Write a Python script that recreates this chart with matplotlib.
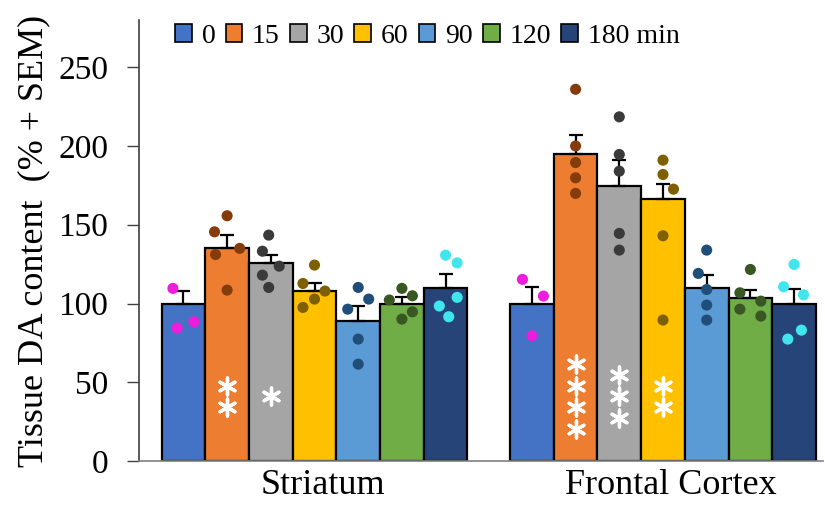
import numpy as np
import matplotlib.pyplot as plt
from matplotlib.patches import Patch

plt.rcParams['font.family'] = ['Liberation Serif', 'DejaVu Serif']

regions = ['Striatum', 'Frontal Cortex']
times = ['0', '15', '30', '60', '90', '120', '180 min']

# group means and SEM (% of 0 min)
means_str = [100, 135, 126, 108, 89, 100, 110]
sem_str = [8, 8.2, 5, 5.3, 9.6, 4.2, 8.6]
means_fc = [100, 195.2, 174.7, 166.4, 109.6, 103.2, 100]
sem_fc = [10.4, 11.7, 16.3, 9.6, 8.8, 5.3, 9.1]

# individual animals
pts_str = [
    [109.6, 88.4, 84.4],
    [155.7, 145.5, 135.0, 131.1, 108.5],
    [143.4, 133.2, 123.7, 118.0, 110.2],
    [124.4, 112.7, 107.9, 102.8, 97.5],
    [110.2, 102.8, 96.4, 77.4, 61.5],
    [109.6, 104.9, 102.2, 94.7, 90.1],
    [130.7, 125.8, 103.9, 98.4, 91.6],
]
pts_fc = [
    [115.3, 104.7, 79.5],
    [236.0, 200.0, 189.5, 179.8, 169.9],
    [218.5, 194.6, 184.0, 144.5, 133.9],
    [191.0, 181.9, 172.6, 143.0, 89.5],
    [133.9, 119.1, 108.9, 99.0, 89.5],
    [121.6, 106.8, 101.5, 96.4, 92.0],
    [124.8, 110.6, 105.5, 83.1, 77.4],
]
# horizontal scatter of the dots, in dot steps
jit_str = [
    [-1, 1, -0.6],
    [0, -1.2, 1.2, -1.1, 0],
    [-0.2, -0.8, 0.8, -0.8, -0.2],
    [0, -1.1, 1, 0, -1.1],
    [0, 1, -1, 0, 0],
    [0, 1, -1.2, 1, 0],
    [0, 1.1, 1.1, -0.6, 0.3],
]
jit_fc = [
    [-0.9, 1.1, 0],
    [0, 0, 0, 0, 0],
    [0, 0, 0, 0, 0],
    [0, 0, 1, 0, 0],
    [0, -0.8, 0, 0, 0],
    [0, -1, 1, -1, 1],
    [0, -1, 0.9, 0.7, -0.6],
]
# number of significance stars per bar
stars_str = [0, 2, 1, 0, 0, 0, 0]
stars_fc = [0, 4, 3, 2, 0, 0, 0]

bar_colors = ['#4472C4', '#ED7D31', '#A5A5A5', '#FFC000', '#5B9BD5', '#70AD47', '#264478']
dot_colors = ['#EE1CDC', '#843C0C', '#3A3A3A', '#7F6000', '#1F4E79', '#385723', '#40E6EE']

fig = plt.figure(figsize=(8.25, 5.07), dpi=100)
ax = fig.add_axes([0.1685, 0.0907, 0.829, 0.8699])

w = 0.1254
step = 0.24 * w
groups = [(means_str, sem_str, pts_str, jit_str, stars_str),
          (means_fc, sem_fc, pts_fc, jit_fc, stars_fc)]
for g, (m, s, pts, jit, st) in enumerate(groups):
    for i in range(7):
        x = g + (i - 3) * w
        ax.bar(x, m[i], width=w, color=bar_colors[i], edgecolor='black',
               linewidth=1.6, zorder=1)
        ax.errorbar(x, m[i], yerr=[[0], [s[i]]], fmt='none', ecolor='black',
                    elinewidth=1.6, capsize=5, capthick=1.6, zorder=2)
        xs = x + np.array(jit[i]) * step
        ax.scatter(xs, pts[i], s=64, color=dot_colors[i], edgecolors='none', zorder=3)
        n = st[i]
        if n:
            ys = 41 + (np.arange(n)[::-1] - (n - 1) / 2) * 13.8
            ax.scatter([x] * n, ys, marker=(6, 2, 0), s=150, color='white',
                       linewidths=2.4, zorder=3)

ax.set_xlim(-0.5036, 1.459)
ax.set_ylim(0, 280)
ax.set_yticks(np.arange(0, 251, 50))
# region labels sit a little right of the group centres
ax.set_xticks(np.arange(2) + 0.023)
ax.set_xticklabels(regions, fontsize=26)
ax.tick_params(axis='x', length=0, pad=6)
ax.tick_params(axis='y', labelsize=24, length=9, width=1, direction='out',
               color='#404040', pad=13)
ax.set_ylabel('Tissue DA content  (% + SEM)', fontsize=26, labelpad=6)
for side in ['top', 'right']:
    ax.spines[side].set_visible(False)
ax.spines['left'].set_color('#404040')
ax.spines['bottom'].set_color('#808080')
ax.spines['left'].set_linewidth(1.2)
ax.spines['bottom'].set_linewidth(1.2)

handles = [Patch(facecolor=c, edgecolor='black', linewidth=1.2) for c in bar_colors]
fig.legend(handles, times, loc='center left', bbox_to_anchor=(0.199, 0.928),
           ncol=7, frameon=False, fontsize=20, handlelength=0.6, handleheight=0.6,
           handletextpad=0.35, columnspacing=0.37, borderaxespad=0)

fig.savefig('out.png', dpi=100)
